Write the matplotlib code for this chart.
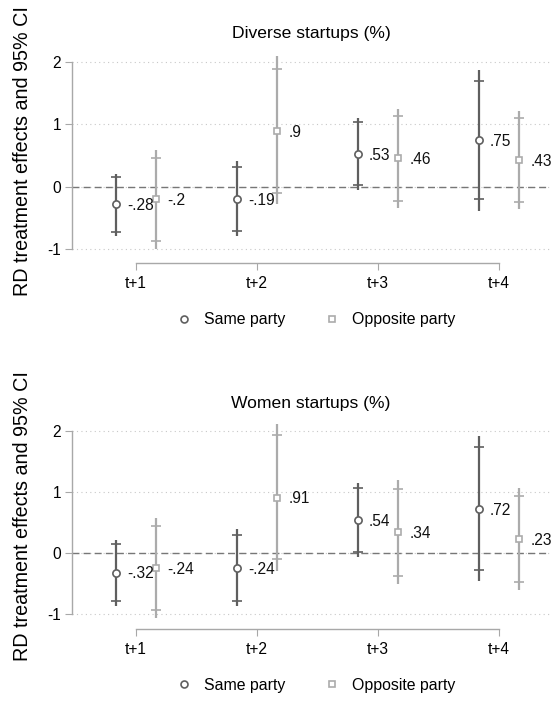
import matplotlib
matplotlib.use("Agg")
import matplotlib.pyplot as plt
from matplotlib.lines import Line2D
import numpy as np

plt.rcParams['font.family'] = ['Liberation Sans', 'DejaVu Sans']

periods = ['t+1', 't+2', 't+3', 't+4']

# Panel 1: Diverse startups
div_same_est = [-0.28, -0.19, 0.53, 0.75]
div_same_lo95 = [-0.79, -0.79, -0.05, -0.38]
div_same_hi95 = [0.21, 0.41, 1.11, 1.87]
div_same_lo90 = [-0.73, -0.71, 0.03, -0.20]
div_same_hi90 = [0.16, 0.32, 1.04, 1.69]
div_opp_est = [-0.20, 0.90, 0.46, 0.43]
div_opp_lo95 = [-0.99, -0.28, -0.34, -0.36]
div_opp_hi95 = [0.59, 2.09, 1.25, 1.22]
div_opp_lo90 = [-0.87, -0.10, -0.22, -0.25]
div_opp_hi90 = [0.46, 1.89, 1.13, 1.10]

# Panel 2: Women startups
wom_same_est = [-0.32, -0.24, 0.54, 0.72]
wom_same_lo95 = [-0.86, -0.86, -0.06, -0.46]
wom_same_hi95 = [0.22, 0.39, 1.14, 1.91]
wom_same_lo90 = [-0.79, -0.78, 0.02, -0.28]
wom_same_hi90 = [0.15, 0.30, 1.06, 1.73]
wom_opp_est = [-0.24, 0.91, 0.34, 0.23]
wom_opp_lo95 = [-1.06, -0.29, -0.51, -0.61]
wom_opp_hi95 = [0.58, 2.12, 1.20, 1.07]
wom_opp_lo90 = [-0.93, -0.10, -0.37, -0.48]
wom_opp_hi90 = [0.45, 1.93, 1.05, 0.94]

titles = ['Diverse startups (%)', 'Women startups (%)']
series_labels = ['Same party', 'Opposite party']

DARK = '#5f5f5f'
LIGHT = '#ababab'
SPINE = '#a8a8a8'


def fmt(v):
    s = f"{v:.2f}".rstrip('0').rstrip('.')
    s = s.replace('0.', '.', 1) if s.startswith('0.') else s.replace('-0.', '-.', 1)
    return s


fig = plt.figure(figsize=(5.52, 7.04), dpi=100)
W, H = 552, 704

panels = [
    dict(top=49.5, bottom=263.3, ylo=-1.224, lab_y=0.525,
         same=(div_same_est, div_same_lo95, div_same_hi95, div_same_lo90, div_same_hi90),
         opp=(div_opp_est, div_opp_lo95, div_opp_hi95, div_opp_lo90, div_opp_hi90)),
    dict(top=418.8, bottom=629.3, ylo=-1.25, lab_y=0.538,
         same=(wom_same_est, wom_same_lo95, wom_same_hi95, wom_same_lo90, wom_same_hi90),
         opp=(wom_opp_est, wom_opp_lo95, wom_opp_hi95, wom_opp_lo90, wom_opp_hi90)),
]

left_px, right_px = 72, 550
x = np.arange(1, len(periods) + 1)
off = 0.168

for i, p in enumerate(panels):
    ax = fig.add_axes([left_px / W, (H - p['bottom']) / H,
                       (right_px - left_px) / W, (p['bottom'] - p['top']) / H])
    ax.set_xlim(0.471, 0.471 + (right_px - left_px) / 121.0)
    ax.set_ylim(p['ylo'], 2.2)

    for yv in [-1, 0, 1, 2]:
        ax.axhline(yv, color='#c8c8c8', lw=0.8, ls=(0, (1, 3)), zorder=0)
    ax.axhline(0, color='#777777', lw=1.0, ls=(0, (5, 3)), zorder=1)

    for (est, lo95, hi95, lo90, hi90), dx, col, mk, ms in [
            (p['same'], -off, DARK, 'o', 5.2), (p['opp'], off, LIGHT, 's', 4.8)]:
        xs = x + dx
        ax.vlines(xs, lo95, hi95, color=col, lw=1.6, zorder=2)
        ax.plot(xs, lo90, ls='none', marker='_', ms=7, mew=1.2, color=col, zorder=2)
        ax.plot(xs, hi90, ls='none', marker='_', ms=7, mew=1.2, color=col, zorder=2)
        ax.plot(xs, est, ls='none', marker=mk, ms=ms,
                mfc='white', mec=col, mew=1.2, zorder=3)
        for xi, v in zip(xs, est):
            ax.annotate(fmt(v), (xi, v), xytext=(8, -1), textcoords='offset points',
                        ha='left', va='center', fontsize=11.2, color='#111111', zorder=4)

    for s in ['top', 'right']:
        ax.spines[s].set_visible(False)
    ax.spines['left'].set_bounds(-1, 2)
    ax.spines['bottom'].set_bounds(1, 4)
    for s in ['left', 'bottom']:
        ax.spines[s].set_color(SPINE)
        ax.spines[s].set_linewidth(1.0)

    ax.set_xticks(x)
    ax.set_xticklabels(periods)
    ax.set_yticks([-1, 0, 1, 2])
    ax.set_yticklabels(['-1', '0', '1', '2'])
    ax.tick_params(axis='x', length=5, color=SPINE, labelsize=11.2, pad=4)
    ax.tick_params(axis='y', length=5, color=SPINE, labelsize=11.2, pad=3)

    ax.set_title(titles[i], fontsize=12.6, pad=8)
    ax.set_ylabel('RD treatment effects and 95% CI', fontsize=14.2)
    ax.yaxis.set_label_coords(-0.084, p['lab_y'])

    handles = [Line2D([], [], ls='none', marker='o', ms=5, mfc='white', mec=DARK, mew=1.2),
               Line2D([], [], ls='none', marker='s', ms=5, mfc='white', mec=LIGHT, mew=1.2)]
    ax.legend(handles, series_labels, loc='center', bbox_to_anchor=(0.51, -0.265),
              ncol=2, frameon=False, fontsize=11.4, handletextpad=0.8,
              columnspacing=2.4, handlelength=1.0)

fig.savefig('out.png', dpi=100)
